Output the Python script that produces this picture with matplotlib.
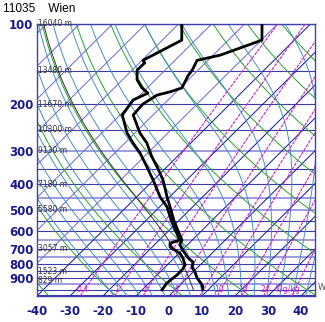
import numpy as np
import matplotlib
matplotlib.use('Agg')
import matplotlib.pyplot as plt

station = "11035    Wien"
# sounding (hPa, degC)
p_snd = [1000, 957, 904, 858, 822, 787, 760, 710, 676, 650, 600, 550, 500, 488, 448, 386, 345, 316, 280, 257, 220, 200, 185, 180, 174, 156, 149, 137, 131, 115, 100]
t_snd = [8.4, 6.6, 3.1, 0.6, -1.8, -3.0, -5.7, -9.7, -12.4, -13.1, -17.1, -21.4, -25.7, -26.8, -30.7, -37.2, -42.9, -47.6, -53.4, -58.5, -66.0, -66.4, -64.8, -61.9, -59.5, -61.4, -61.8, -63.3, -57.9, -49.8, -54.7]
p_dew = [1000, 943, 880, 843, 808, 760, 729, 690, 668, 650, 600, 550, 500, 488, 448, 386, 345, 306, 280, 257, 220, 193, 182, 174, 162, 149, 140, 137, 115, 100]
td_snd = [-4.0, -4.6, -4.0, -4.0, -4.5, -7.3, -9.7, -14.6, -15.8, -13.8, -17.8, -22.2, -26.6, -27.7, -32.8, -40.2, -46.0, -52.3, -57.6, -62.4, -69.3, -70.6, -68.2, -71.6, -75.6, -78.5, -78.4, -79.7, -74.1, -79.0]
parcel_t1000 = 5.5
lvl_p = [100, 150, 200, 250, 300, 400, 500, 700, 850, 925]
lvl_h = ["16040 m", "13480 m", "11670 m", "10300 m", "9130 m", "7180 m", "5580 m", "3057 m", "1523 m", "829 m"]
xticks = [-40, -30, -20, -10, 0, 10, 20, 30, 40]
yticks = [100, 200, 300, 400, 500, 600, 700, 800, 900]
mix_w = [0.4, 1, 2, 4, 7, 10, 16, 24, 40]
mix_lab = ["0.4", "1", "2", "4", "7", "10", "16", "24", "40g/kg"]
light_isobars = [300, 450, 500, 650, 750, 950]

PBOT, PTOP, K = 1055.0, 100.0, 81.0
NAVY = '#1a1a8c'
MAG = '#c028c0'

def skx(T, p):
    return np.asarray(T, float) + K * np.log10(PBOT / np.asarray(p, float))

fig = plt.figure(figsize=(3.25, 3.22), dpi=100)
ax = fig.add_axes([37/325, 26/322, 278/325, 272/322])
ax.set_yscale('log')
ax.set_ylim(PBOT, PTOP)
ax.set_xlim(-40, 44.24)

pp = np.logspace(np.log10(PBOT), np.log10(PTOP), 200)

# isobars
for p in range(100, 1051, 50):
    if p in light_isobars:
        ax.axhline(p, color='#9c9ce0', lw=1.4, zorder=1)
    else:
        ax.axhline(p, color='#3c3ca8', lw=0.8, zorder=1)

# isotherms
for T in range(-130, 50, 10):
    col = '#2020a0' if T >= -40 else '#7070d0'
    ax.plot(skx(T, pp), pp, color=col, lw=0.75, zorder=2)

# dry adiabats
for th in np.arange(193.15, 500, 20):
    T = th * (pp / 1000.0) ** 0.2857 - 273.15
    ax.plot(skx(T, pp), pp, color='#2ca02c', lw=0.7, zorder=2)

# moist adiabats
Rd, Cp, Lv, eps = 287.04, 1005.7, 2.501e6, 0.622
def es(Tk):
    return 6.112 * np.exp(17.67 * (Tk - 273.15) / (Tk - 29.65))
def dTdp(Tk, p):
    e = es(Tk); rs = eps * e / (p - e)
    return (Rd * Tk + Lv * rs) / (p * (Cp + Lv**2 * rs * eps / (Rd * Tk**2)))
def moist(T0, plist, p0=1000.0):
    out = []
    Tk = T0 + 273.15; pc = p0
    for p in plist:
        n = 10
        h = (p - pc) / n
        for _ in range(n):
            k1 = dTdp(Tk, pc); k2 = dTdp(Tk + h*k1/2, pc + h/2)
            k3 = dTdp(Tk + h*k2/2, pc + h/2); k4 = dTdp(Tk + h*k3, pc + h)
            Tk += h*(k1 + 2*k2 + 2*k3 + k4)/6; pc += h
        out.append(Tk - 273.15)
    return np.array(out)
pup = np.logspace(3, 2, 120)
pdn = np.linspace(1000, PBOT, 10)
for T0 in range(-20, 44, 4):
    ax.plot(skx(moist(T0, pup), pup), pup, color='#4a8cc4', lw=0.7, zorder=2)
    ax.plot(skx(moist(T0, pdn), pdn), pdn, color='#4a8cc4', lw=0.7, zorder=2)

# mixing ratio
def td_from_w(w, p):
    e = (w/1000.0) * p / (eps + w/1000.0)
    l = np.log(e / 6.112)
    return 243.5 * l / (17.67 - l)
for w, lab in zip(mix_w, mix_lab):
    ax.plot(skx(td_from_w(w, pp), pp), pp, color=MAG, lw=0.8, ls=(0, (3, 1)), zorder=3)
    xl = skx(td_from_w(w, 1000), 1000)
    if len(lab) > 3:
        ax.text(xl + 1.5, 1000, lab, color=MAG, fontsize=5.5, ha='right', va='center', zorder=4)
    else:
        ax.text(xl - 0.5, 1000, lab, color=MAG, fontsize=5.5, ha='center', va='center', zorder=4)

# parcel
ax.plot(skx(moist(parcel_t1000, pup), pup), pup, color='#333333', lw=0.7, zorder=5)

# sounding
pf = np.array([p for p in p_snd if 488 <= p <= 650])
tf = np.interp(np.log(pf), np.log(p_snd[::-1]), t_snd[::-1])
dfv = np.interp(np.log(pf), np.log(p_dew[::-1]), td_snd[::-1])
ax.fill_betweenx(pf, skx(dfv, pf), skx(tf, pf), color='#a8c8e8', zorder=5)
ax.plot(skx(t_snd, p_snd), p_snd, color='black', lw=2, zorder=6)
ax.plot(skx(td_snd, p_dew), p_dew, color='black', lw=2, zorder=6)

# height labels
for p, h in zip(lvl_p, lvl_h):
    ax.text(-39.7, p, h, fontsize=5.5, color='#333333', ha='left', va='center', zorder=7)

for s in ax.spines.values():
    s.set_color('#4040b0'); s.set_linewidth(1)
ax.set_xticks(xticks)
ax.set_xticklabels([str(v) for v in xticks], fontsize=8.5, color=NAVY, fontweight='bold')
ax.set_yticks(yticks)
ax.set_yticklabels([str(v) for v in yticks], fontsize=8.5, color=NAVY, fontweight='bold')
ax.yaxis.set_minor_locator(matplotlib.ticker.NullLocator())
ax.tick_params(axis='y', length=0, pad=2.5)
ax.tick_params(axis='x', length=0, pad=6.5)
fig.text(3/325, 1 - 9/322, station, fontsize=8.6, family='Liberation Sans', va='center', ha='left')
fig.text(318/325, 1 - 287/322, "W", fontsize=6, color='#555555', va='center', ha='left')
fig.savefig('out.png', dpi=100)
